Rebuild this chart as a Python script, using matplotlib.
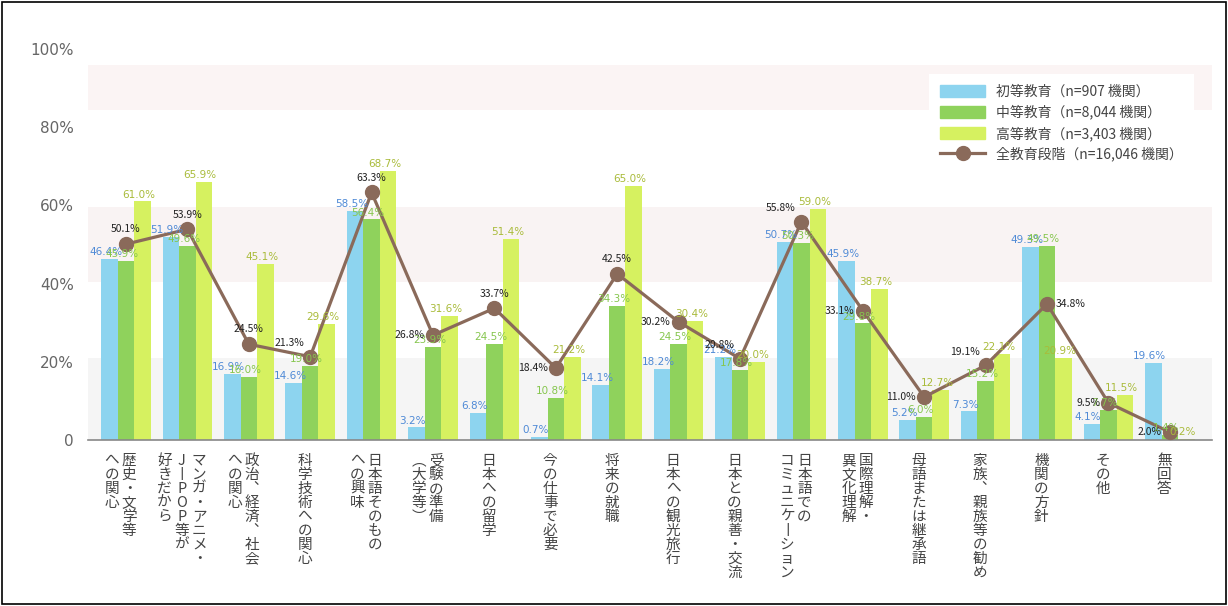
import matplotlib
matplotlib.use("Agg")
from matplotlib import pyplot as plt
from matplotlib.patches import Patch, Rectangle
from matplotlib.lines import Line2D
import numpy as np

plt.rcParams['font.family'] = ['Noto Sans CJK JP', 'DejaVu Sans']

# 学習目的（列は右から左へ）
categories = [
    "歴史・文学等\nへの関心",
    "マンガ・アニメ・\nJ-POP等が\n好きだから",
    "政治、経済、社会\nへの関心",
    "科学技術への関心",
    "日本語そのもの\nへの興味",
    "受験の準備\n(大学等)",
    "日本への留学",
    "今の仕事で必要",
    "将来の就職",
    "日本への観光旅行",
    "日本との親善・交流",
    "日本語での\nコミュニケーション",
    "国際理解・\n異文化理解",
    "母語または継承語",
    "家族、親族等の勧め",
    "機関の方針",
    "その他",
    "無回答",
]

primary = [46.4, 51.9, 16.9, 14.6, 58.5, 3.2, 6.8, 0.7, 14.1, 18.2, 21.2, 50.7, 45.9, 5.2, 7.3, 49.3, 4.1, 19.6]
secondary = [45.9, 49.6, 16.0, 19.0, 56.4, 23.9, 24.5, 10.8, 34.3, 24.5, 17.8, 50.3, 29.8, 6.0, 15.2, 49.5, 7.7, 1.4]
higher = [61.0, 65.9, 45.1, 29.6, 68.7, 31.6, 51.4, 21.2, 65.0, 30.4, 20.0, 59.0, 38.7, 12.7, 22.1, 20.9, 11.5, 0.2]
overall = [50.1, 53.9, 24.5, 21.3, 63.3, 26.8, 33.7, 18.4, 42.5, 30.2, 20.8, 55.8, 33.1, 11.0, 19.1, 34.8, 9.5, 2.0]

series_names = ["初等教育（n=907 機関）", "中等教育（n=8,044 機関）",
                "高等教育（n=3,403 機関）", "全教育段階（n=16,046 機関）"]
yticks = [0, 20, 40, 60, 80, 100]
ytick_labels = ["0", "20%", "40%", "60%", "80%", "100%"]

# 折れ線ラベルの置き方
line_label_pos = ['up', 'up', 'up', 'ul', 'up', 'l', 'up', 'l', 'up', 'l',
                  'ul', 'ul', 'l', 'l', 'ul', 'r', 'l', 'l']

c_blue = '#8dd4ef'
c_green = '#8fd25c'
c_yellow = '#d6f160'
c_line = '#8a6a5a'
txt_cols = ['#4f8ad6', '#86c64e', '#a9bb3a']

fig = plt.figure(figsize=(12.28, 6.06), dpi=100)
ax = fig.add_axes([88 / 1228, (606 - 440) / 606, 1124 / 1228, 391 / 606])

x = np.arange(len(categories))
w = 0.27

# スキャン原稿の淡い帯
ax.axhspan(84.5, 96, color='#fbf4f4', zorder=0, lw=0)
ax.axhspan(40.5, 59.5, color='#f9f3f3', zorder=0, lw=0)
ax.axhspan(0, 21, color='#f5f5f5', zorder=0, lw=0)

for k, (vals, col) in enumerate(zip([primary, secondary, higher], [c_blue, c_green, c_yellow])):
    xs = x + (k - 1) * w
    ax.bar(xs, vals, width=w, color=col, zorder=2, label=series_names[k])
    for xi, v in zip(xs, vals):
        ax.text(xi - 0.06, v + 0.5, f"{v:.1f}%", ha='center', va='bottom',
                fontsize=7.5, color=txt_cols[k], zorder=5, family='DejaVu Sans')

ax.plot(x, overall, color=c_line, lw=2.3, marker='o', markersize=10, zorder=4)
for xi, v, p in zip(x, overall, line_label_pos):
    if p == 'up':
        ax.annotate(f"{v:.1f}%", (xi, v), xytext=(0, 7), textcoords='offset points',
                    ha='center', va='bottom', fontsize=7.5, color='#222222', zorder=6)
    elif p == 'ul':
        ax.annotate(f"{v:.1f}%", (xi, v), xytext=(-4, 6), textcoords='offset points',
                    ha='right', va='bottom', fontsize=7.5, color='#222222', zorder=6)
    elif p == 'l':
        ax.annotate(f"{v:.1f}%", (xi, v), xytext=(-6, 0), textcoords='offset points',
                    ha='right', va='center', fontsize=7.5, color='#222222', zorder=6)
    else:
        ax.annotate(f"{v:.1f}%", (xi, v), xytext=(6, 0), textcoords='offset points',
                    ha='left', va='center', fontsize=7.5, color='#222222', zorder=6)

ax.set_xlim((88 - 126) / 61.4, (1212 - 126) / 61.4)
ax.set_ylim(0, 100)
ax.set_yticks(yticks)
ax.set_yticklabels(ytick_labels, fontsize=11, color='#666666', family='DejaVu Sans')
ax.tick_params(axis='y', length=0, pad=10)
ax.set_xticks([])
for s in ['top', 'right', 'left']:
    ax.spines[s].set_visible(False)
ax.spines['bottom'].set_color('#888888')
ax.spines['bottom'].set_linewidth(1.2)

# 縦書きラベル
vert = {'、': '︑', 'ー': '丨', '(': '︵', ')': '︶', '-': '丨'}
trans = ax.get_xaxis_transform()
for xi, lab in zip(x, categories):
    cols = lab.split('\n')
    n = len(cols)
    for j, col in enumerate(cols):
        s = '\n'.join(vert.get(ch, ch) for ch in col)
        dx = ((n - 1) / 2 - j) * 12.5 - 4
        ax.annotate(s, (xi, 0), xycoords=trans, xytext=(dx, -10), textcoords='offset points',
                    ha='center', va='top', fontsize=10.5, color='#444444', linespacing=1.0,
                    annotation_clip=False)

handles = [Patch(color=c_blue), Patch(color=c_green), Patch(color=c_yellow),
           Line2D([0], [0], color=c_line, lw=2.3, marker='o', markersize=10)]
leg = ax.legend(handles, series_names, loc='upper right', bbox_to_anchor=(0.99, 0.955),
                fontsize=10, frameon=True, fancybox=False, edgecolor='none', framealpha=1,
                handlelength=3.2, handleheight=1.0, labelspacing=0.45, borderpad=0.8)
for t in leg.get_texts():
    t.set_color('#444444')

fig.patches.append(Rectangle((0.002, 0.003), 0.996, 0.994, transform=fig.transFigure,
                             fill=False, edgecolor='black', lw=1.2))

fig.savefig("out.png", dpi=100)
